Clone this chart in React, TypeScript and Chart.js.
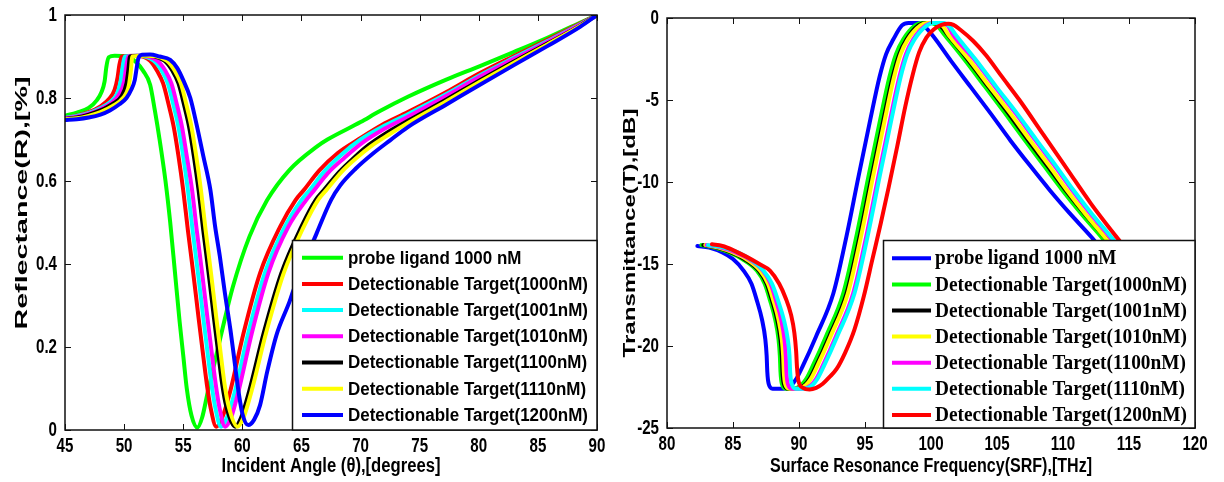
import React, { useEffect, useRef } from 'react';
import { Chart, registerables } from 'chart.js';

Chart.register(...registerables);

type Pt = [number, number];

// ---------------- Left panel: Reflectance vs incident angle ----------------
const leftXTicks = [45, 50, 55, 60, 65, 70, 75, 80, 85, 90];
const leftYTicks = [0, 0.2, 0.4, 0.6, 0.8, 1];

const leftLabels = [
  'probe ligand 1000 nM',
  'Detectionable Target(1000nM)',
  'Detectionable Target(1001nM)',
  'Detectionable Target(1010nM)',
  'Detectionable Target(1100nM)',
  'Detectionable Target(1110nM)',
  'Detectionable Target(1200nM)',
];
const leftColors = ['#00ff00', '#ff0000', '#00ffff', '#ff00ff', '#000000', '#ffff00', '#0000ff'];

const leftProbe: Pt[] = [[45,0.757],[46,0.765],[47,0.776],[47.7,0.795],[48.1,0.815],[48.35,0.84],[48.5,0.875],[48.7,0.898],[49.2,0.902],[50.2,0.9],[51.0,0.887],[51.6,0.866],[52.2,0.832],[52.6,0.77],[53.0,0.70],[53.5,0.60],[53.9,0.50],[54.3,0.38],[54.7,0.26],[55.0,0.18],[55.3,0.10],[55.7,0.035],[56.2,0.006],[56.6,0.03],[57.1,0.095],[58.1,0.217],[59.2,0.345],[60.6,0.466],[62.1,0.554],[64.0,0.627],[66.3,0.683],[67.2,0.70],[70,0.742],[71.6,0.768],[74,0.803],[77.3,0.845],[80.1,0.877],[82.9,0.91],[85.8,0.945],[88.6,0.982],[90,1.0]];
const leftT1000: Pt[] = [[45,0.752],[46,0.758],[47,0.766],[48,0.78],[48.8,0.80],[49.2,0.82],[49.45,0.85],[49.6,0.88],[49.8,0.9],[51.0,0.902],[52.2,0.89],[52.8,0.865],[53.3,0.835],[53.8,0.78],[54.2,0.73],[54.6,0.66],[55.0,0.578],[55.4,0.48],[55.85,0.378],[56.3,0.27],[56.7,0.177],[57.0,0.11],[57.3,0.056],[57.8,0.008],[58.3,0.03],[59.0,0.096],[60.1,0.233],[61.5,0.378],[63.2,0.49],[64.5,0.554],[65.2,0.578],[66.5,0.625],[68.1,0.668],[69.8,0.70],[71.8,0.735],[74,0.766],[77.3,0.815],[80.1,0.86],[82.9,0.9],[85.8,0.94],[88.6,0.98],[90,1.0]];
const leftT1001: Pt[] = [[45,0.752],[46,0.757],[47,0.764],[48,0.776],[48.8,0.79],[49.4,0.81],[49.7,0.84],[49.85,0.87],[50.05,0.9],[51.2,0.902],[52.5,0.89],[53.2,0.865],[53.7,0.835],[54.2,0.78],[54.6,0.73],[55.0,0.66],[55.4,0.578],[55.8,0.48],[56.25,0.378],[56.7,0.27],[57.1,0.177],[57.4,0.11],[57.7,0.056],[58.2,0.008],[58.7,0.03],[59.4,0.096],[60.5,0.233],[61.9,0.378],[63.6,0.49],[65.0,0.554],[65.7,0.578],[66.9,0.622],[68.4,0.664],[70.0,0.70],[72.0,0.733],[74,0.761],[77.3,0.81],[80.1,0.855],[82.9,0.896],[85.8,0.937],[88.6,0.978],[90,1.0]];
const leftT1010: Pt[] = [[45,0.751],[46,0.755],[47,0.762],[48,0.773],[49,0.79],[49.6,0.81],[50.0,0.84],[50.15,0.87],[50.35,0.9],[51.4,0.902],[52.8,0.89],[53.5,0.865],[54.0,0.835],[54.5,0.78],[54.9,0.73],[55.3,0.66],[55.75,0.578],[56.15,0.48],[56.6,0.378],[57.05,0.27],[57.45,0.177],[57.75,0.11],[58.05,0.056],[58.55,0.008],[59.05,0.03],[59.7,0.096],[60.8,0.233],[62.2,0.378],[63.9,0.49],[65.4,0.554],[66.0,0.575],[67.2,0.618],[68.6,0.655],[70.2,0.693],[72.1,0.727],[74,0.755],[77.3,0.806],[80.1,0.852],[82.9,0.893],[85.8,0.935],[88.6,0.977],[90,1.0]];
const leftT1100: Pt[] = [[45,0.75],[46,0.753],[47,0.76],[48,0.77],[49,0.785],[49.8,0.805],[50.2,0.835],[50.35,0.865],[50.5,0.9],[51.6,0.902],[53.4,0.89],[54.1,0.865],[54.6,0.835],[55.1,0.78],[55.5,0.73],[55.9,0.66],[56.3,0.578],[56.7,0.48],[57.15,0.378],[57.6,0.27],[58.0,0.177],[58.3,0.11],[58.65,0.056],[59.4,0.008],[59.9,0.03],[60.6,0.096],[61.8,0.233],[63.3,0.378],[65.0,0.49],[66.2,0.554],[66.9,0.578],[68.2,0.622],[69.4,0.655],[70.7,0.687],[72.2,0.716],[74,0.745],[77.3,0.797],[80.1,0.843],[82.9,0.887],[85.8,0.931],[88.6,0.975],[90,1.0]];
const leftT1110: Pt[] = [[45,0.749],[46,0.751],[47,0.757],[48,0.766],[49,0.78],[49.9,0.80],[50.4,0.83],[50.55,0.86],[50.7,0.9],[51.8,0.902],[53.6,0.89],[54.3,0.865],[54.8,0.835],[55.3,0.78],[55.7,0.73],[56.1,0.66],[56.5,0.578],[56.9,0.48],[57.35,0.378],[57.8,0.27],[58.2,0.177],[58.5,0.11],[58.85,0.056],[59.6,0.008],[60.1,0.03],[60.8,0.096],[62.0,0.233],[63.5,0.378],[65.2,0.49],[66.4,0.554],[67.1,0.578],[68.4,0.622],[69.6,0.654],[70.9,0.684],[72.4,0.712],[74,0.74],[77.3,0.793],[80.1,0.839],[82.9,0.884],[85.8,0.929],[88.6,0.974],[90,1.0]];
const leftT1200: Pt[] = [[45,0.747],[46,0.749],[47,0.753],[48,0.76],[48.8,0.77],[49.6,0.785],[50.2,0.80],[50.6,0.82],[50.9,0.843],[51.05,0.87],[51.2,0.895],[51.5,0.904],[52.2,0.905],[53.0,0.9],[53.9,0.892],[54.5,0.872],[55.0,0.843],[55.6,0.8],[56.1,0.74],[56.7,0.66],[57.3,0.578],[57.7,0.49],[58.1,0.418],[58.5,0.335],[59.0,0.24],[59.3,0.175],[59.66,0.096],[60.0,0.04],[60.5,0.012],[61.0,0.025],[61.5,0.06],[62.1,0.14],[62.9,0.23],[64.0,0.31],[64.3,0.335],[66.3,0.475],[67.5,0.554],[68.3,0.59],[69.6,0.63],[71.0,0.665],[72.5,0.698],[74,0.73],[77.3,0.785],[80.1,0.832],[82.9,0.878],[85.8,0.925],[88.6,0.972],[90,1.0]];
const leftSeries: Pt[][] = [leftProbe, leftT1000, leftT1001, leftT1010, leftT1100, leftT1110, leftT1200];

// ---------------- Right panel: Transmittance vs SRF ----------------
const rightXTicks = [80, 85, 90, 95, 100, 105, 110, 115, 120];
const rightYTicks = [-25, -20, -15, -10, -5, 0];

const rightLabels = [
  'probe ligand 1000 nM',
  'Detectionable Target(1000nM)',
  'Detectionable Target(1001nM)',
  'Detectionable Target(1010nM)',
  'Detectionable Target(1100nM)',
  'Detectionable Target(1110nM)',
  'Detectionable Target(1200nM)',
];
const rightColors = ['#0000ff', '#00ff00', '#000000', '#ffff00', '#ff00ff', '#00ffff', '#ff0000'];

const rightProbe: Pt[] = [[82.3,-13.9],[83.2,-14.0],[84.2,-14.3],[85.0,-14.7],[85.8,-15.4],[86.4,-16.2],[86.8,-17.2],[87.2,-18.4],[87.45,-19.6],[87.55,-20.6],[87.6,-21.6],[87.7,-22.3],[88.0,-22.6],[88.8,-22.6],[89.4,-22.4],[89.8,-22.0],[90.3,-21.2],[91.3,-19.4],[92.6,-16.8],[93.6,-13.3],[94.5,-9.7],[95.4,-6.2],[96.1,-3.6],[96.6,-2.2],[97.15,-1.3],[97.8,-0.45],[98.3,-0.3],[99.0,-0.3],[99.5,-0.5],[100.2,-1.15],[101.5,-2.6],[103,-4.2],[104.5,-5.8],[106,-7.45],[107.5,-9.0],[109,-10.5],[110.5,-11.9],[112.2,-13.4],[112.6,-13.8]];
const rightT1000: Pt[] = [[82.6,-13.85],[83.6,-14.0],[84.7,-14.3],[85.7,-14.7],[86.8,-15.4],[87.4,-16.2],[87.8,-17.2],[88.2,-18.4],[88.45,-19.6],[88.55,-20.6],[88.6,-21.6],[88.7,-22.3],[89.0,-22.6],[89.55,-22.6],[90.15,-22.4],[90.55,-22.0],[91.05,-21.2],[92.05,-19.4],[93.35,-16.8],[94.35,-13.3],[95.25,-9.7],[96.15,-6.2],[96.85,-3.6],[97.35,-2.2],[97.9,-1.3],[98.8,-0.45],[99.3,-0.3],[100.0,-0.3],[100.5,-0.5],[101.0,-1.0],[102.5,-2.5],[104.1,-4.2],[105.6,-5.8],[107.1,-7.45],[108.55,-9.0],[109.95,-10.5],[111.35,-11.9],[112.95,-13.4],[113.35,-13.8]];
const rightT1001: Pt[] = [[82.75,-13.85],[83.75,-14.0],[84.85,-14.3],[85.85,-14.7],[86.95,-15.4],[87.55,-16.2],[87.95,-17.2],[88.35,-18.4],[88.6,-19.6],[88.7,-20.6],[88.75,-21.6],[88.85,-22.3],[89.15,-22.6],[89.8,-22.6],[90.4,-22.4],[90.8,-22.0],[91.3,-21.2],[92.3,-19.4],[93.6,-16.8],[94.6,-13.3],[95.5,-9.7],[96.4,-6.2],[97.1,-3.6],[97.6,-2.2],[98.15,-1.3],[99.05,-0.45],[99.55,-0.3],[100.25,-0.3],[100.75,-0.5],[101.25,-1.0],[102.75,-2.5],[104.35,-4.2],[105.85,-5.8],[107.35,-7.45],[108.8,-9.0],[110.2,-10.5],[111.6,-11.9],[113.2,-13.4],[113.6,-13.8]];
const rightT1010: Pt[] = [[82.9,-13.85],[83.9,-14.0],[85.0,-14.3],[86.0,-14.7],[87.05,-15.4],[87.65,-16.2],[88.05,-17.2],[88.45,-18.4],[88.7,-19.6],[88.8,-20.6],[88.85,-21.6],[88.95,-22.3],[89.25,-22.6],[89.9,-22.6],[90.5,-22.4],[90.9,-22.0],[91.4,-21.2],[92.4,-19.4],[93.7,-16.8],[94.7,-13.3],[95.6,-9.7],[96.5,-6.2],[97.2,-3.6],[97.7,-2.2],[98.25,-1.3],[99.2,-0.45],[99.7,-0.3],[100.4,-0.3],[100.9,-0.5],[101.3,-1.0],[102.85,-2.5],[104.45,-4.2],[106.0,-5.8],[107.5,-7.45],[108.95,-9.0],[110.3,-10.5],[111.65,-11.9],[113.2,-13.4],[113.6,-13.8]];
const rightT1100: Pt[] = [[83.0,-13.85],[84.1,-14.0],[85.2,-14.3],[86.2,-14.7],[87.25,-15.4],[87.85,-16.2],[88.25,-17.2],[88.65,-18.4],[88.9,-19.6],[89.0,-20.6],[89.05,-21.6],[89.15,-22.3],[89.45,-22.6],[90.3,-22.6],[90.9,-22.4],[91.3,-22.0],[91.8,-21.2],[92.8,-19.4],[94.1,-16.8],[95.1,-13.3],[96.0,-9.7],[96.9,-6.2],[97.6,-3.6],[98.1,-2.2],[98.65,-1.3],[99.6,-0.45],[100.1,-0.3],[100.8,-0.3],[101.3,-0.5],[101.65,-1.0],[103.25,-2.5],[104.85,-4.2],[106.4,-5.8],[107.9,-7.45],[109.35,-9.0],[110.7,-10.5],[112.05,-11.9],[113.6,-13.4],[114.0,-13.8]];
const rightT1110: Pt[] = [[83.1,-13.85],[84.3,-14.0],[85.4,-14.3],[86.3,-14.7],[87.3,-15.4],[87.95,-16.2],[88.4,-17.2],[88.85,-18.4],[89.15,-19.6],[89.28,-20.6],[89.33,-21.6],[89.45,-22.3],[89.75,-22.6],[90.4,-22.6],[91.0,-22.4],[91.4,-22.0],[91.9,-21.2],[92.9,-19.4],[94.2,-16.8],[95.2,-13.3],[96.1,-9.7],[97.0,-6.2],[97.7,-3.6],[98.2,-2.2],[98.75,-1.3],[99.7,-0.45],[100.2,-0.3],[100.9,-0.3],[101.4,-0.5],[101.85,-1.0],[103.35,-2.5],[104.95,-4.2],[106.5,-5.8],[108.0,-7.45],[109.45,-9.0],[110.8,-10.5],[112.15,-11.9],[113.7,-13.4],[114.1,-13.8]];
const rightT1200: Pt[] = [[83.4,-13.8],[84.2,-13.9],[85.0,-14.15],[86.0,-14.55],[87.0,-15.0],[87.8,-15.4],[88.5,-16.2],[89.0,-17.1],[89.4,-18.1],[89.65,-19.2],[89.78,-20.3],[89.85,-21.3],[89.95,-22.1],[90.3,-22.55],[90.8,-22.65],[91.3,-22.55],[91.8,-22.3],[92.3,-21.9],[92.85,-21.4],[93.5,-20.4],[94.2,-19.0],[94.9,-17.0],[95.55,-14.75],[96.2,-12.5],[96.8,-10.3],[97.45,-7.8],[98.05,-5.4],[98.6,-3.5],[99.1,-2.1],[99.65,-1.2],[100.2,-0.7],[100.8,-0.42],[101.3,-0.35],[101.7,-0.42],[102.2,-0.7],[103.2,-1.4],[104.2,-2.3],[105.3,-3.5],[106.7,-5.0],[108.5,-7.1],[110.3,-9.2],[112.1,-11.3],[114.1,-13.4],[114.5,-13.8]];
const rightSeries: Pt[][] = [rightProbe, rightT1000, rightT1001, rightT1010, rightT1100, rightT1110, rightT1200];

// ---------------- drawing helpers ----------------
const SANS = '"Liberation Sans", Arial, sans-serif';
const SERIF = '"Liberation Serif", "Times New Roman", serif';

function drawText(
  ctx: CanvasRenderingContext2D, text: string, x: number, y: number, font: string,
  sx: number, align: CanvasTextAlign, baseline: CanvasTextBaseline, rot = 0,
) {
  ctx.save();
  ctx.font = font;
  ctx.textAlign = align;
  ctx.textBaseline = baseline;
  ctx.fillStyle = '#000';
  ctx.translate(x, y);
  if (rot) ctx.rotate(rot);
  ctx.scale(sx, 1);
  ctx.fillText(text, 0, 0);
  ctx.restore();
}

function fitScale(ctx: CanvasRenderingContext2D, text: string, font: string, target: number) {
  ctx.save();
  ctx.font = font;
  const w = ctx.measureText(text).width;
  ctx.restore();
  return w > 0 ? target / w : 1;
}

interface PanelCfg {
  xTicks: number[];
  yTicks: number[];
  xTitle: string; xTitleX: number; xTitleY: number; xTitleW: number;
  yTitle: string; yTitleX: number; yTitleY: number; yTitleL: number;
  legend: {
    x0: number; y0: number; x1: number; y1: number;
    rowY0: number; rowDY: number; lineX0: number; lineX1: number; textX: number;
    font: string; fitText: string; fitW: number; labels: string[]; colors: string[];
  };
}

function panelPlugin(cfg: PanelCfg) {
  const tickFont = `bold 21px ${SANS}`;
  const tickSx = 0.72;
  const fmt = (v: number) => String(Math.round(v * 10) / 10);
  return {
    id: 'panelDecor',
    afterDatasetsDraw(chart: any) {
      const { ctx, chartArea: a, scales } = chart;
      const xs = scales.x, ys = scales.y;
      ctx.save();
      ctx.strokeStyle = '#111';
      ctx.lineWidth = 1.5;
      ctx.strokeRect(a.left, a.top, a.right - a.left, a.bottom - a.top);
      ctx.lineWidth = 1;
      ctx.beginPath();
      for (const v of cfg.xTicks) {
        const px = Math.round(xs.getPixelForValue(v)) + 0.5;
        ctx.moveTo(px, a.bottom); ctx.lineTo(px, a.bottom - 6);
        ctx.moveTo(px, a.top); ctx.lineTo(px, a.top + 6);
      }
      for (const v of cfg.yTicks) {
        const py = Math.round(ys.getPixelForValue(v)) + 0.5;
        ctx.moveTo(a.left, py); ctx.lineTo(a.left + 6, py);
        ctx.moveTo(a.right, py); ctx.lineTo(a.right - 6, py);
      }
      ctx.stroke();
      ctx.restore();

      for (const v of cfg.xTicks) {
        drawText(ctx, fmt(v), xs.getPixelForValue(v), a.bottom + 6, tickFont, tickSx, 'center', 'top');
      }
      for (const v of cfg.yTicks) {
        drawText(ctx, fmt(v), a.left - 8, ys.getPixelForValue(v), tickFont, tickSx, 'right', 'middle');
      }

      const xtFont = `bold 20px ${SANS}`;
      drawText(ctx, cfg.xTitle, cfg.xTitleX, cfg.xTitleY, xtFont,
        fitScale(ctx, cfg.xTitle, xtFont, cfg.xTitleW), 'center', 'middle');
      const ytFont = `bold 17px ${SANS}`;
      drawText(ctx, cfg.yTitle, cfg.yTitleX, cfg.yTitleY, ytFont,
        fitScale(ctx, cfg.yTitle, ytFont, cfg.yTitleL), 'center', 'middle', -Math.PI / 2);
    },
    afterDraw(chart: any) {
      const { ctx } = chart;
      const L = cfg.legend;
      ctx.save();
      ctx.fillStyle = '#fff';
      ctx.fillRect(L.x0, L.y0, L.x1 - L.x0, L.y1 - L.y0);
      ctx.strokeStyle = '#111';
      ctx.lineWidth = 1.5;
      ctx.strokeRect(L.x0, L.y0, L.x1 - L.x0, L.y1 - L.y0);
      ctx.lineWidth = 4;
      ctx.lineCap = 'butt';
      L.labels.forEach((_, i) => {
        const y = L.rowY0 + i * L.rowDY;
        ctx.strokeStyle = L.colors[i];
        ctx.beginPath();
        ctx.moveTo(L.lineX0, y);
        ctx.lineTo(L.lineX1, y);
        ctx.stroke();
      });
      ctx.restore();
      const sx = fitScale(ctx, L.fitText, L.font, L.fitW);
      L.labels.forEach((lab, i) => {
        drawText(ctx, lab, L.textX, L.rowY0 + i * L.rowDY + 1, L.font, sx, 'left', 'middle');
      });
    },
  };
}

function makeChart(
  canvas: HTMLCanvasElement, series: Pt[][], colors: string[],
  xr: [number, number], yr: [number, number], xStep: number, yStep: number,
  pad: { left: number; right: number; top: number }, yW: number, xH: number, cfg: PanelCfg,
) {
  const n = series.length;
  return new Chart(canvas, {
    type: 'line',
    data: {
      datasets: series.map((s, i) => ({
        label: cfg.legend.labels[i],
        data: s.map(([x, y]) => ({ x, y })),
        borderColor: colors[i],
        backgroundColor: colors[i],
        borderWidth: 4,
        pointRadius: 0,
        fill: false,
        cubicInterpolationMode: 'monotone' as const,
        borderJoinStyle: 'round' as const,
        borderCapStyle: 'round' as const,
        order: n - i,
      })),
    },
    options: {
      responsive: false,
      animation: false,
      devicePixelRatio: 1,
      events: [],
      layout: { padding: { left: pad.left, right: pad.right, top: pad.top, bottom: 0 }, autoPadding: false },
      plugins: { legend: { display: false }, tooltip: { enabled: false } },
      scales: {
        x: {
          type: 'linear', min: xr[0], max: xr[1],
          ticks: { stepSize: xStep, display: false },
          grid: { display: false }, border: { display: false },
          afterFit: (s: any) => { s.height = xH; },
        },
        y: {
          type: 'linear', min: yr[0], max: yr[1],
          ticks: { stepSize: yStep, display: false },
          grid: { display: false }, border: { display: false },
          afterFit: (s: any) => { s.width = yW; },
        },
      },
    },
    plugins: [panelPlugin(cfg)],
  } as any);
}

export default function App() {
  const leftRef = useRef<HTMLCanvasElement>(null);
  const rightRef = useRef<HTMLCanvasElement>(null);

  useEffect(() => {
    if (!leftRef.current || !rightRef.current) return;
    const c1 = makeChart(
      leftRef.current, leftSeries, leftColors, [45, 90], [0, 1], 5, 0.2,
      { left: 0, right: 15, top: 15 }, 65, 52,
      {
        xTicks: leftXTicks, yTicks: leftYTicks,
        xTitle: 'Incident Angle (θ),[degrees]', xTitleX: 331, xTitleY: 466, xTitleW: 219,
        yTitle: 'Reflectance(R),[%]', yTitleX: 22, yTitleY: 203, yTitleL: 253,
        legend: {
          x0: 292.5, y0: 240.5, x1: 597, y1: 430,
          rowY0: 257.7, rowDY: 26.2, lineX0: 302, lineX1: 343, textX: 348,
          font: `bold 18px ${SANS}`, fitText: 'Detectionable Target(1000nM)', fitW: 240,
          labels: leftLabels, colors: leftColors,
        },
      },
    );
    const c2 = makeChart(
      rightRef.current, rightSeries, rightColors, [80, 120], [-25, 0], 5, 5,
      { left: 0, right: 29, top: 18 }, 55, 54,
      {
        xTicks: rightXTicks, yTicks: rightYTicks,
        xTitle: 'Surface Resonance Frequency(SRF),[THz]', xTitleX: 319, xTitleY: 466, xTitleW: 322,
        yTitle: 'Transmittance(T),[dB]', yTitleX: 18, yTitleY: 233, yTitleL: 249,
        legend: {
          x0: 271.5, y0: 240.5, x1: 583, y1: 428,
          rowY0: 258.3, rowDY: 26.1, lineX0: 280, lineX1: 319, textX: 323,
          font: `bold 20px ${SERIF}`, fitText: 'Detectionable Target(1000nM)', fitW: 252,
          labels: rightLabels, colors: rightColors,
        },
      },
    );
    return () => { c1.destroy(); c2.destroy(); };
  }, []);

  return (
    <div style={{ position: 'absolute', left: 0, top: 0, width: 1224, height: 482, background: '#fff' }}>
      <canvas ref={leftRef} width={612} height={482} style={{ position: 'absolute', left: 0, top: 0, display: 'block' }} />
      <canvas ref={rightRef} width={612} height={482} style={{ position: 'absolute', left: 612, top: 0, display: 'block' }} />
    </div>
  );
}
